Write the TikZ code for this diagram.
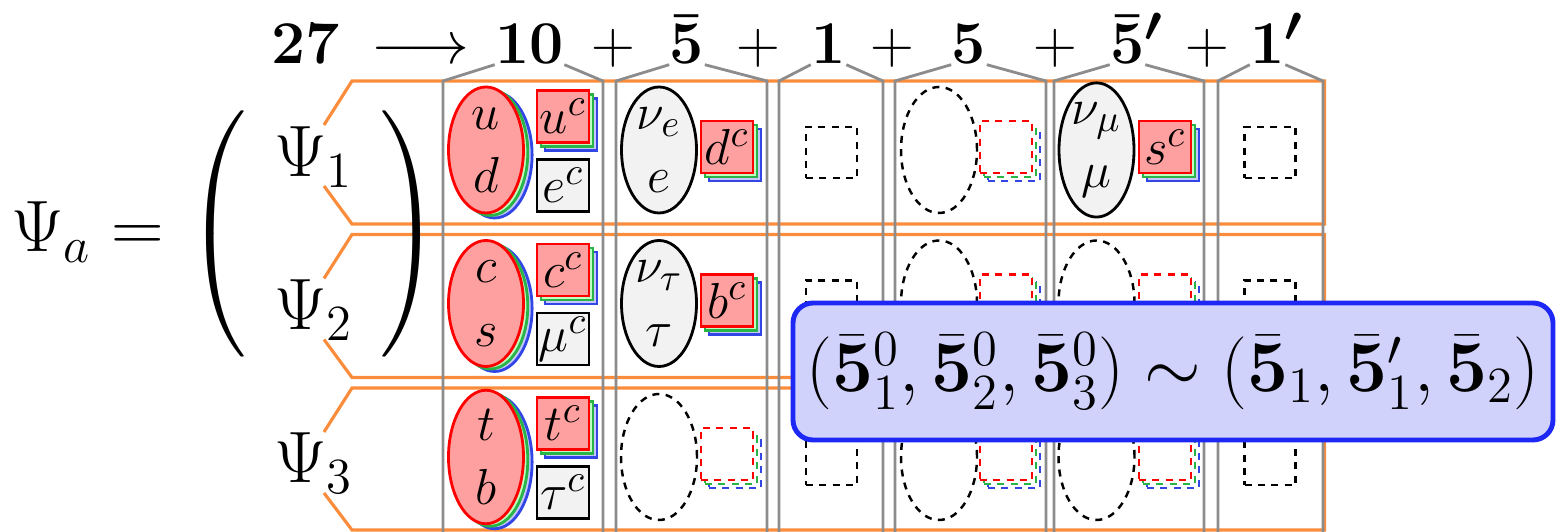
\documentclass[tikz,border=0pt]{standalone}
\usepackage{amsmath}
\usepackage{amssymb}
\usepackage{mathtools}
\usetikzlibrary{shapes.geometric,shadows,positioning,calc}
\definecolor{OrangeFrame}{RGB}{250,140,60}
\definecolor{GrayCol}{RGB}{140,140,140}
\definecolor{RedFill}{RGB}{255,160,160}
\definecolor{GreenLine}{RGB}{40,180,70}
\definecolor{BlueLine}{RGB}{50,70,230}
\definecolor{BoxFill}{RGB}{208,210,252}
\definecolor{BoxLine}{RGB}{30,40,245}

\begin{document}
\begin{tikzpicture}[
  rowframe/.style={draw=OrangeFrame, line width=0.9pt},
  colline/.style={draw=GrayCol, line width=0.8pt},
  gapline/.style={dash pattern=on 2pt off 1.8pt, line width=0.7pt},
  replabel/.style={inner sep=0pt, anchor=base, font=\fontsize{19}{23}\selectfont\boldmath},
  plus/.style={inner sep=0pt, anchor=base, font=\fontsize{19}{23}\selectfont},
  gen/.style={font=\fontsize{19.5}{23}\selectfont},
  quarkell/.style={
    ellipse, draw=red, fill=RedFill, thick, inner sep=0pt,
    minimum width=0.75cm, minimum height=1.26cm, align=center, font=\fontsize{15}{18}\selectfont,
    copy shadow={shadow xshift=0.086cm, shadow yshift=-0.05cm, draw=BlueLine, fill=blue!22},
    copy shadow={shadow xshift=0.043cm, shadow yshift=-0.025cm, draw=GreenLine, fill=green!25}
  },
  leptonell/.style={
    ellipse, draw=black, fill=gray!10, thick, inner sep=0pt,
    minimum width=0.75cm, minimum height=1.26cm, align=center, font=\fontsize{15}{18}\selectfont
  },
  emptyell/.style={
    ellipse, draw=black, gapline, inner sep=0pt,
    minimum width=0.76cm, minimum height=1.26cm
  },
  quarkbox/.style={
    rectangle, draw=red, fill=RedFill, thick, inner sep=0pt,
    minimum size=0.52cm, font=\fontsize{15}{18}\selectfont,
    copy shadow={shadow xshift=0.08cm, shadow yshift=-0.08cm, draw=BlueLine, fill=blue!22},
    copy shadow={shadow xshift=0.04cm, shadow yshift=-0.04cm, draw=GreenLine, fill=green!25}
  },
  leptonbox/.style={
    rectangle, draw=black, fill=gray!10, thick, inner sep=0pt,
    minimum size=0.52cm, font=\fontsize{15}{18}\selectfont
  },
  emptybox/.style={
    rectangle, draw=black, gapline, inner sep=0pt, minimum size=0.51cm
  },
  emptytriple/.style={
    rectangle, draw=red, fill=white, gapline, inner sep=0pt, minimum size=0.52cm,
    copy shadow={shadow xshift=0.08cm, shadow yshift=-0.08cm, draw=BlueLine, fill=white},
    copy shadow={shadow xshift=0.04cm, shadow yshift=-0.04cm, draw=GreenLine, fill=white}
  },
  infobox/.style={
    rectangle, draw=BoxLine, fill=BoxFill, line width=1.4pt, rounded corners=0.2cm,
    minimum width=7.6cm, minimum height=1.37cm, font=\fontsize{19.5}{23}\selectfont
  }
]
\useasboundingbox (0,0) rectangle (15.56,5.32);
\coordinate (base) at (0,0);

% --- generation frames (orange)
\draw[rowframe] (3.24,4.07) -- (3.52,4.51) -- (13.245,4.51) -- (13.245,3.08) -- (3.52,3.08) -- (3.24,3.46);
\draw[rowframe] (3.24,2.535) -- (3.52,2.975) -- (13.245,2.975) -- (13.245,1.545) -- (3.52,1.545) -- (3.24,1.925);
\draw[rowframe] (3.24,1.00) -- (3.52,1.44) -- (13.245,1.44) -- (13.245,0.02) -- (3.52,0.02) -- (3.24,0.39);

% --- left hand side
\node[gen, anchor=base] (psia) at (0.875,2.80) {$\Psi_a =$};
\node[gen] (lpar) at (2.19,2.98) {$\left(\vcenter{\hrule height 2.38cm width 0pt}\right.$};
\node[gen] (rpar) at (4.085,2.98) {$\left.\vcenter{\hrule height 2.38cm width 0pt}\right)$};
\node[gen] (psi1) at (3.14,3.75) {$\Psi_1$};
\node[gen] (psi2) at (3.14,2.22) {$\Psi_2$};
\node[gen] (psi3) at (3.14,0.69) {$\Psi_3$};

% --- decomposition (top row)
\node[replabel] (r27)  at (3.06,4.68)   {$27$};
\node[plus]     (arr)  at (4.20,4.68)   {$\longrightarrow$};
\node[replabel] (r10)  at (5.295,4.68)  {$10$};
\node[plus]     (p1)   at (6.13,4.68)   {$+$};
\node[replabel] (r5b)  at (6.87,4.68)   {$\bar{5}$};
\node[plus]     (p2)   at (7.58,4.68)   {$+$};
\node[replabel] (r1)   at (8.285,4.68)  {$1$};
\node[plus]     (p3)   at (8.92,4.68)   {$+$};
\node[replabel] (r5)   at (9.69,4.68)   {$5$};
\node[plus]     (p4)   at (10.55,4.68)  {$+$};
\node[replabel] (r5bp) at (11.275,4.68) {$\bar{5}\mathrlap{'}$};
\node[plus]     (p5)   at (12.07,4.68)  {$+$};
\node[replabel] (r1p)  at (12.675,4.68) {$1\mathrlap{'}$};

% --- column corners
\coordinate (c1a) at (4.43,4.51);  \coordinate (c1b) at (6.03,4.51);
\coordinate (c2a) at (6.16,4.51);  \coordinate (c2b) at (7.67,4.51);
\coordinate (c3a) at (7.79,4.51);  \coordinate (c3b) at (8.83,4.51);
\coordinate (c4a) at (8.95,4.51);  \coordinate (c4b) at (10.46,4.51);
\coordinate (c5a) at (10.54,4.51); \coordinate (c5b) at (12.04,4.51);
\coordinate (c6a) at (12.18,4.51); \coordinate (c6b) at (13.23,4.51);

% --- columns (gray)
\draw[colline] (c1a |- base) -- (c1a) -- (r10.south west);
\draw[colline] (r10.south east) -- (c1b) -- (c1b |- base);
\draw[colline] (c2a |- base) -- (c2a) -- (r5b.south west);
\draw[colline] (r5b.south east) -- (c2b) -- (c2b |- base);
\draw[colline] (c3a |- base) -- (c3a) -- (r1.south west);
\draw[colline] (r1.south east) -- (c3b) -- (c3b |- base);
\draw[colline] (c4a |- base) -- (c4a) -- (r5.south west);
\draw[colline] (r5.south east) -- (c4b) -- (c4b |- base);
\draw[colline] (c5a |- base) -- (c5a) -- (r5bp.south west);
\draw[colline] (r5bp.south east) -- (c5b) -- (c5b |- base);
\draw[colline] (c6a |- base) -- (c6a) -- (r1p.south west);
\draw[colline] (r1p.south east) -- (c6b) -- (c6b |- base);

% --- first generation
\node[quarkell]    (ud)     at (4.86,3.82)   {$u$\\$d$};
\node[quarkbox]    (uc)     at (5.63,4.155)  {$u^c$};
\node[leptonbox]   (ec)     at (5.63,3.465)  {$e^c$};
\node[leptonell]   (nue)    at (6.59,3.82)   {$\nu_e$\\$e$};
\node[quarkbox]    (dc)     at (7.27,3.85)   {$d^c$};
\node[emptybox]    (one1)   at (8.315,3.795) {};
\node[emptyell]    (five1)  at (9.39,3.82)   {};
\node[emptytriple] (fivec1) at (10.06,3.85)  {};
\node[leptonell]   (numu)   at (10.965,3.82) {$\nu_\mu$\\$\mu$};
\node[quarkbox]    (sc)     at (11.65,3.85)  {$s^c$};
\node[emptybox]    (onep1)  at (12.70,3.795) {};

% --- second generation
\node[quarkell]    (cs)     at (4.86,2.285)  {$c$\\$s$};
\node[quarkbox]    (ccc)    at (5.63,2.62)   {$c^c$};
\node[leptonbox]   (muc)    at (5.63,1.93)   {$\mu^c$};
\node[leptonell]   (nutau)  at (6.59,2.285)  {$\nu_\tau$\\$\tau$};
\node[quarkbox]    (bc)     at (7.27,2.315)  {$b^c$};
\node[emptybox]    (one2)   at (8.315,2.26)  {};
\node[emptyell]    (five2)  at (9.39,2.285)  {};
\node[emptytriple] (fivec2) at (10.06,2.315) {};
\node[emptyell]    (fivb2)  at (10.965,2.285) {};
\node[emptytriple] (fivbc2) at (11.65,2.315) {};
\node[emptybox]    (onep2)  at (12.70,2.26)  {};

% --- third generation
\node[quarkell]    (tb)     at (4.86,0.75)   {$t$\\$b$};
\node[quarkbox]    (tc)     at (5.63,1.085)  {$t^c$};
\node[leptonbox]   (tauc)   at (5.63,0.395)  {$\tau^c$};
\node[emptyell]    (fivb3)  at (6.59,0.75)   {};
\node[emptytriple] (fivbc3) at (7.27,0.78)   {};
\node[emptybox]    (one3)   at (8.315,0.725) {};
\node[emptyell]    (five3)  at (9.39,0.75)   {};
\node[emptytriple] (fivec3) at (10.06,0.78)  {};
\node[emptyell]    (fivp3)  at (10.965,0.75) {};
\node[emptytriple] (fivpc3) at (11.65,0.78)  {};
\node[emptybox]    (onep3)  at (12.70,0.725) {};

% --- identification
\node[infobox] (equiv) at (11.73,1.605)
  {$(\bar{\mathbf{5}}^0_1, \bar{\mathbf{5}}^0_2, \bar{\mathbf{5}}^0_3) \sim (\bar{\mathbf{5}}_1, \bar{\mathbf{5}}'_1, \bar{\mathbf{5}}_2)$};

\end{tikzpicture}
\end{document}
